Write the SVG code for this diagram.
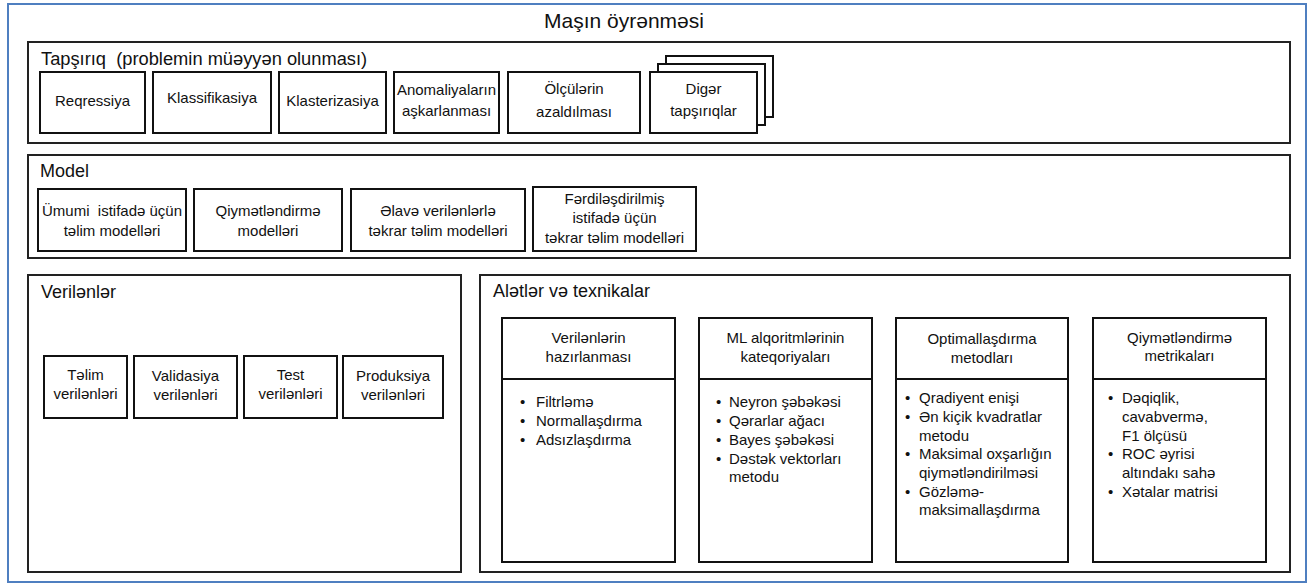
<svg xmlns="http://www.w3.org/2000/svg" width="1312" height="586" viewBox="0 0 1312 586">
<style>
text{font-family:"Liberation Sans",Arial,sans-serif;fill:#111;}
.t15{font-size:15px;}
.t18{font-size:18px;}
.c{text-anchor:middle;}
.box{fill:#fff;stroke:#111;stroke-width:2;}
.panel{fill:#fff;stroke:#222;stroke-width:2;}
</style>
<rect x="0" y="0" width="1312" height="586" fill="#fff"/>
<rect id="outer" x="8" y="4" width="1298" height="578" fill="#fff" stroke="#4f7fc0" stroke-width="2"/>
<text class="c" x="624" y="28" font-size="21">Maşın öyrənməsi</text>

<g id="tapsiriq">
<rect class="panel" x="28" y="42" width="1262" height="101"/>
<text x="41" y="65" font-size="18.3" xml:space="preserve">Tapşırıq  (problemin müəyyən olunması)</text>
<g id="reqressiya"><rect class="box" x="40" y="72" width="105" height="61"/><text class="t15 c" x="92.5" y="106">Reqressiya</text></g>
<g id="klassifikasiya"><rect class="box" x="153" y="72" width="118" height="61"/><text class="t15 c" x="212" y="103">Klassifikasiya</text></g>
<g id="klasterizasiya"><rect class="box" x="279" y="72" width="107" height="61"/><text class="t15 c" x="332.5" y="106">Klasterizasiya</text></g>
<g id="anomaliya"><rect class="box" x="394" y="72" width="105" height="61"/><text class="t15 c" x="446.5" y="95">Anomaliyaların</text><text class="t15 c" x="446.5" y="116">aşkarlanması</text></g>
<g id="olculer"><rect class="box" x="508" y="72" width="132" height="61"/><text class="t15 c" x="574" y="94">Ölçülərin</text><text class="t15 c" x="574" y="117">azaldılması</text></g>
<g id="diger">
<rect class="box" x="666" y="56" width="107" height="61"/>
<rect class="box" x="658" y="64" width="107" height="61"/>
<rect class="box" x="650" y="72" width="107" height="61"/>
<text class="t15 c" x="703.5" y="94">Digər</text><text class="t15 c" x="703.5" y="116">tapşırıqlar</text>
</g>
</g>

<g id="model">
<rect class="panel" x="28" y="155" width="1262" height="103"/>
<text class="t18" x="40" y="177">Model</text>
<g id="umumi"><rect class="box" x="38" y="189" width="148" height="62"/><text class="t15 c" x="112" y="216" xml:space="preserve">Ümumi  istifadə üçün</text><text class="t15 c" x="112" y="236">təlim modelləri</text></g>
<g id="qiymetlendirme"><rect class="box" x="194" y="189" width="148" height="62"/><text class="t15 c" x="268" y="216">Qiymətləndirmə</text><text class="t15 c" x="268" y="236">modelləri</text></g>
<g id="elave"><rect class="box" x="351" y="189" width="174" height="62"/><text class="t15 c" x="438" y="216">Əlavə verilənlərlə</text><text class="t15 c" x="438" y="236">təkrar təlim modelləri</text></g>
<g id="ferdi"><rect class="box" x="533" y="187" width="163" height="64"/><text class="t15 c" x="614.5" y="204">Fərdiləşdirilmiş</text><text class="t15 c" x="614.5" y="223">istifadə üçün</text><text class="t15 c" x="614.5" y="243">təkrar təlim modelləri</text></g>
</g>

<g id="verilenler">
<rect class="panel" x="28" y="275" width="433" height="297"/>
<text class="t18" x="41" y="298">Verilənlər</text>
<g id="telim"><rect class="box" x="44" y="356" width="83" height="62"/><text class="t15 c" x="85.5" y="380">Təlim</text><text class="t15 c" x="85.5" y="399">verilənləri</text></g>
<g id="validasiya"><rect class="box" x="134" y="356" width="103" height="62"/><text class="t15 c" x="185.5" y="381">Validasiya</text><text class="t15 c" x="185.5" y="400">verilənləri</text></g>
<g id="test"><rect class="box" x="244" y="356" width="93" height="62"/><text class="t15 c" x="290.5" y="380">Test</text><text class="t15 c" x="290.5" y="399">verilənləri</text></g>
<g id="produksiya"><rect class="box" x="343" y="356" width="100" height="62"/><text class="t15 c" x="393" y="381">Produksiya</text><text class="t15 c" x="393" y="400">verilənləri</text></g>
</g>

<g id="aletler">
<rect class="panel" x="480" y="275" width="810" height="297"/>
<text class="t18" x="493" y="297">Alətlər və texnikalar</text>

<g id="hazirlanma">
<rect class="box" x="502" y="318" width="173" height="244"/>
<line x1="502" y1="379" x2="675" y2="379" stroke="#111" stroke-width="2"/>
<text class="t15 c" x="588.5" y="343">Verilənlərin</text><text class="t15 c" x="588.5" y="362">hazırlanması</text>
<g class="t15">
<text x="520" y="407">•</text><text x="536" y="407">Filtrləmə</text>
<text x="520" y="426">•</text><text x="536" y="426">Normallaşdırma</text>
<text x="520" y="445">•</text><text x="536" y="445">Adsızlaşdırma</text>
</g>
</g>

<g id="alqoritmler">
<rect class="box" x="699" y="318" width="173" height="244"/>
<line x1="699" y1="379" x2="872" y2="379" stroke="#111" stroke-width="2"/>
<text class="t15 c" x="785.5" y="343">ML alqoritmlərinin</text><text class="t15 c" x="785.5" y="362">kateqoriyaları</text>
<g class="t15">
<text x="716" y="407">•</text><text x="729" y="407">Neyron şəbəkəsi</text>
<text x="716" y="426">•</text><text x="729" y="426">Qərarlar ağacı</text>
<text x="716" y="445">•</text><text x="729" y="445">Bayes şəbəkəsi</text>
<text x="716" y="464">•</text><text x="729" y="464">Dəstək vektorları</text>
<text x="729" y="482">metodu</text>
</g>
</g>

<g id="optimallasdirma">
<rect class="box" x="896" y="318" width="172" height="244"/>
<line x1="896" y1="379" x2="1068" y2="379" stroke="#111" stroke-width="2"/>
<text class="t15 c" x="982" y="344">Optimallaşdırma</text><text class="t15 c" x="982" y="363">metodları</text>
<g class="t15">
<text x="905" y="403">•</text><text x="919" y="403">Qradiyent enişi</text>
<text x="905" y="422">•</text><text x="919" y="422">Ən kiçik kvadratlar</text>
<text x="919" y="441">metodu</text>
<text x="905" y="459">•</text><text x="919" y="459">Maksimal oxşarlığın</text>
<text x="919" y="478">qiymətləndirilməsi</text>
<text x="905" y="497">•</text><text x="919" y="497">Gözləmə-</text>
<text x="919" y="515">maksimallaşdırma</text>
</g>
</g>

<g id="metrikalar">
<rect class="box" x="1093" y="318" width="173" height="244"/>
<line x1="1093" y1="379" x2="1266" y2="379" stroke="#111" stroke-width="2"/>
<text class="t15 c" x="1179.5" y="343">Qiymətləndirmə</text><text class="t15 c" x="1179.5" y="361">metrikaları</text>
<g class="t15">
<text x="1108" y="403">•</text><text x="1122" y="403">Dəqiqlik,</text>
<text x="1122" y="422">cavabvermə,</text>
<text x="1122" y="441">F1 ölçüsü</text>
<text x="1108" y="459">•</text><text x="1122" y="459">ROC əyrisi</text>
<text x="1122" y="478">altındakı sahə</text>
<text x="1108" y="497">•</text><text x="1122" y="497">Xətalar matrisi</text>
</g>
</g>
</g>
</svg>
